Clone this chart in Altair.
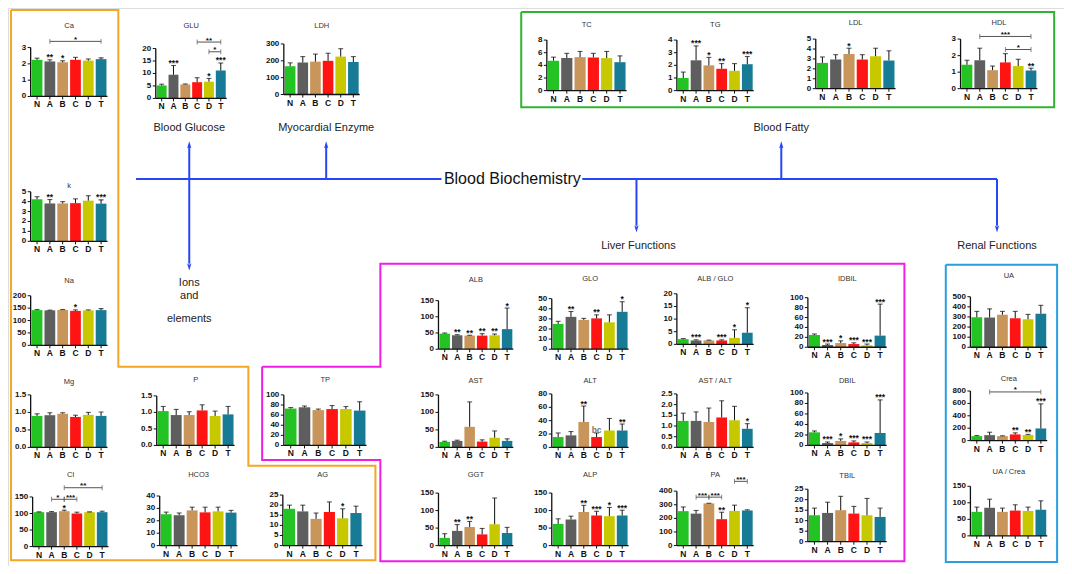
import altair as alt
import pandas as pd

# ---------------- data ----------------
GROUPS = ["N", "A", "B", "C", "D", "T"]
COLORS = ["#22c322", "#5e5e5e", "#c8955a", "#ff1414", "#c8c800", "#177b96"]

CA_M = [2.25, 2.15, 2.10, 2.25, 2.20, 2.29]
CA_E = [2.35, 2.25, 2.19, 2.40, 2.30, 2.37]
CA_S = ["", "**", "*", "", "", ""]
CA_BR = [("A", "T", 3.38, "*")]

K_M = [4.24, 3.82, 3.82, 3.85, 4.10, 3.80]
K_E = [4.50, 4.21, 4.00, 4.28, 4.60, 4.18]
K_S = ["", "**", "", "", "", "***"]

NA_M = [142, 141, 143, 139, 141, 142]
NA_E = [144.5, 142, 144.5, 143, 143, 148]
NA_S = ["", "", "", "*", "", ""]

MG_M = [0.90, 0.92, 0.96, 0.87, 0.93, 0.90]
MG_E = [0.96, 0.99, 0.99, 0.92, 1.00, 1.01]
MG_S = ["", "", "", "", "", ""]

CL_M = [104, 104, 107, 100, 104, 104]
CL_E = [105, 106, 110, 104, 105, 107]
CL_S = ["", "", "*", "", "", ""]
CL_BR = [("A", "B", 143, "*"), ("B", "C", 143, "***"), ("B", "T", 178, "**")]

P_M = [1.04, 0.92, 0.92, 1.06, 0.89, 0.94]
P_E = [1.18, 1.09, 1.02, 1.23, 1.04, 1.18]
P_S = ["", "", "", "", "", ""]

HCO3_M = [25.3, 24.5, 28.4, 26.8, 27.6, 26.6]
HCO3_E = [27.0, 26.3, 31.0, 31.0, 31.0, 28.4]
HCO3_S = ["", "", "", "", "", ""]

AG_M = [18.2, 16.9, 13.2, 16.6, 13.5, 16.1]
AG_E = [20.0, 20.0, 16.1, 21.6, 18.2, 19.5]
AG_S = ["", "", "", "", "*", ""]

TP_M = [73, 75.5, 70, 72, 72, 69]
TP_E = [75, 78, 72, 79, 77, 86.5]
TP_S = ["", "", "", "", "", ""]

GLU_M = [5.2, 9.5, 5.6, 6.5, 6.7, 11.2]
GLU_E = [5.7, 13.2, 5.8, 8.3, 8.0, 14.2]
GLU_S = ["", "***", "", "", "*", "***"]
GLU_BR = [("C", "T", 22.6, "**"), ("D", "T", 18.7, "*")]

LDH_M = [168, 190, 195, 200, 225, 193]
LDH_E = [188, 225, 240, 245, 272, 225]
LDH_S = ["", "", "", "", "", ""]

TC_M = [4.74, 5.15, 5.30, 5.26, 5.15, 4.50]
TC_E = [5.30, 5.90, 6.20, 5.90, 6.20, 5.50]
TC_S = ["", "", "", "", "", ""]

TG_M = [1.00, 2.40, 2.00, 1.73, 1.57, 2.09]
TG_E = [1.47, 3.54, 2.63, 2.14, 2.14, 2.70]
TG_S = ["", "***", "*", "**", "", "***"]

LDL_M = [2.60, 2.94, 3.50, 2.94, 3.27, 2.84]
LDL_E = [3.20, 3.43, 4.08, 3.43, 4.08, 3.82]
LDL_S = ["", "", "*", "", "", ""]

HDL_M = [1.45, 1.72, 1.12, 1.59, 1.37, 1.10]
HDL_E = [1.72, 2.45, 1.37, 2.12, 1.78, 1.24]
HDL_S = ["", "", "", "", "", "**"]
HDL_BR = [("A", "T", 3.16, "***"), ("C", "T", 2.37, "*")]

ALB_M = [48, 43, 42, 42, 43, 62]
ALB_E = [50, 45, 43, 48, 47, 127]
ALB_S = ["", "**", "**", "**", "**", "*"]

GLO_M = [25, 32, 29, 30.5, 26.6, 37]
GLO_E = [27.6, 37.3, 30.5, 34, 34, 47]
GLO_S = ["", "**", "", "**", "", "*"]

AG_RATIO_M = [2.05, 1.54, 1.54, 1.54, 2.56, 4.6]
AG_RATIO_E = [2.3, 1.8, 1.67, 1.8, 5.77, 14.5]
AG_RATIO_S = ["", "***", "", "***", "*", "*"]

IDBIL_M = [24.8, 4.6, 8.5, 6.5, 4.0, 23.5]
IDBIL_E = [26.8, 6.5, 13.0, 9.0, 6.5, 87.0]
IDBIL_S = ["", "***", "*", "***", "***", "***"]

AST_M = [15.7, 18.6, 58.8, 16.7, 27.5, 18.6]
AST_E = [17.6, 20.6, 130, 21.6, 47, 24.5]
AST_S = ["", "", "", "", "", ""]

ALT_M = [15.5, 18.0, 38.1, 15.5, 25.3, 25.3]
ALT_E = [21.6, 23.7, 61.9, 21.6, 43.3, 35.0]
ALT_S = ["", "", "**", "bc", "", "**"]

ASTALT_M = [1.24, 1.24, 1.19, 1.40, 1.27, 0.87]
ASTALT_E = [1.60, 1.66, 1.84, 2.18, 1.92, 1.11]
ASTALT_S = ["", "", "", "", "", "*"]

DBIL_M = [25.0, 4.6, 8.6, 5.9, 4.6, 23.7]
DBIL_E = [27.6, 6.6, 12.5, 8.6, 6.6, 86.8]
DBIL_S = ["", "***", "*", "***", "***", "***"]

GGT_M = [22, 42, 53, 32, 61, 36]
GGT_E = [34, 60, 69, 49, 136, 52]
GGT_S = ["", "**", "**", "", "", ""]

ALP_M = [62, 74.5, 96, 86, 84, 86]
ALP_E = [76.5, 84, 115, 98, 109, 101]
ALP_S = ["", "", "**", "***", "*", "***"]

PA_M = [253, 235, 310, 194, 255, 258]
PA_E = [284, 258, 311, 245, 297, 263]
PA_S = ["", "", "", "**", "", ""]
PA_BR = [("A", "B", 356, "***"), ("B", "C", 356, "***"), ("D", "T", 472, "***")]

TBIL_M = [12.6, 13.7, 15.0, 13.4, 12.6, 11.8]
TBIL_E = [16.0, 18.8, 21.6, 16.8, 20.6, 16.0]
TBIL_S = ["", "", "", "", "", ""]

UA_M = [297, 294, 322, 287, 277, 332]
UA_E = [355, 380, 355, 355, 325, 415]
UA_S = ["", "", "", "", "", ""]

CREA_M = [72, 88, 72, 100, 90, 196]
CREA_E = [82, 135, 78, 125, 100, 593]
CREA_S = ["", "", "", "**", "**", "***"]
CREA_BR = [("A", "T", 785, "*")]

UACR_M = [72.6, 85, 72.6, 76.5, 75.5, 79]
UACR_E = [87, 111, 84, 94, 87, 106]
UACR_S = ["", "", "", "", "", ""]

# ---------------- layout (reference pixel frame 1072 x 574) ----------------
W, H = 1056, 558
REF_W, REF_H = 1072, 574
FONT = "Liberation Sans"
INK = "#111111"


def sx(v):
    return v * W / REF_W


def sy(v):
    return v * H / REF_H


# title, means, tops, stars, brackets, (x0, x1, y_top, y_zero, ymax, ticks, fmt, title_y)
PANELS = [
    ("Ca", CA_M, CA_E, CA_S, CA_BR, (23, 101, 40.7, 91, 3, [0, 1, 2, 3], "d", 19)),
    ("k", K_M, K_E, K_S, [], (23, 101, 189, 240, 5, [0, 1, 2, 3, 4, 5], "d", 183)),
    ("Na", NA_M, NA_E, NA_S, [], (23, 101, 296, 347, 200, [0, 50, 100, 150, 200], "d", 281)),
    ("Mg", MG_M, MG_E, MG_S, [], (23, 101, 398, 452, 1.5, [0, 0.5, 1, 1.5], ".1f", 385)),
    ("Cl", CL_M, CL_E, CL_S, CL_BR, (25, 102, 503, 554, 150, [0, 50, 100, 150], "d", 480)),
    ("P", P_M, P_E, P_S, [], (151, 230, 399, 450, 1.5, [0, 0.5, 1, 1.5], ".1f", 383)),
    ("HCO3", HCO3_M, HCO3_E, HCO3_S, [], (154, 233, 502, 553, 40, [0, 10, 20, 30, 40], "d", 480)),
    ("AG", AG_M, AG_E, AG_S, [], (279, 360, 501, 553, 25, [0, 5, 10, 15, 20, 25], "d", 480)),
    ("TP", TP_M, TP_E, TP_S, [], (280, 364, 398, 450, 100, [0, 20, 40, 60, 80, 100], "d", 383)),
    ("GLU", GLU_M, GLU_E, GLU_S, GLU_BR, (150, 222, 41.7, 93, 20, [0, 5, 10, 15, 20], "d", 19)),
    ("LDH", LDH_M, LDH_E, LDH_S, [], (280, 357, 37, 89, 300, [0, 100, 200, 300], "d", 19)),
    ("TC", TC_M, TC_E, TC_S, [], (547, 628, 33, 85, 8, [0, 2, 4, 6, 8], "d", 17)),
    ("TG", TG_M, TG_E, TG_S, [], (679, 757, 33, 85, 4, [0, 1, 2, 3, 4], "d", 17)),
    ("LDL", LDL_M, LDL_E, LDL_S, [], (820, 901, 32, 83, 5, [0, 1, 2, 3, 4, 5], "d", 15)),
    ("HDL", HDL_M, HDL_E, HDL_S, HDL_BR, (967, 1045, 32, 83, 3, [0, 1, 2, 3], "d", 15)),
    ("ALB", ALB_M, ALB_E, ALB_S, [], (437, 513, 301, 351, 150, [0, 50, 100, 150], "d", 280)),
    ("GLO", GLO_M, GLO_E, GLO_S, [], (552, 630, 299, 351, 50, [0, 10, 20, 30, 40, 50], "d", 279)),
    ("ALB / GLO", AG_RATIO_M, AG_RATIO_E, AG_RATIO_S, [], (679, 757, 294, 346, 20, [0, 5, 10, 15, 20], "d", 279)),
    ("IDBIL", IDBIL_M, IDBIL_E, IDBIL_S, [], (812, 892, 298, 349, 100, [0, 20, 40, 60, 80, 100], "d", 279)),
    ("AST", AST_M, AST_E, AST_S, [], (437, 513, 398, 452, 150, [0, 50, 100, 150], "d", 384)),
    ("ALT", ALT_M, ALT_E, ALT_S, [], (552, 630, 397, 452, 80, [0, 20, 40, 60, 80], "d", 384)),
    ("AST / ALT", ASTALT_M, ASTALT_E, ASTALT_S, [], (679, 757, 397, 452, 2.5, [0, 0.5, 1, 1.5, 2, 2.5], ".1f", 384)),
    ("DBIL", DBIL_M, DBIL_E, DBIL_S, [], (812, 892, 396, 450, 100, [0, 20, 40, 60, 80, 100], "d", 384)),
    ("GGT", GGT_M, GGT_E, GGT_S, [], (437, 513, 499, 553, 150, [0, 50, 100, 150], "d", 480)),
    ("ALP", ALP_M, ALP_E, ALP_S, [], (552, 630, 499, 553, 150, [0, 50, 100, 150], "d", 480)),
    ("PA", PA_M, PA_E, PA_S, PA_BR, (679, 757, 497, 553, 400, [0, 100, 200, 300, 400], "d", 480)),
    ("TBIL", TBIL_M, TBIL_E, TBIL_S, [], (812, 892, 495, 549, 25, [0, 5, 10, 15, 20, 25], "d", 481)),
    ("UA", UA_M, UA_E, UA_S, [], (977, 1055, 297, 349, 500, [0, 100, 200, 300, 400, 500], "d", 276)),
    ("Crea", CREA_M, CREA_E, CREA_S, CREA_BR, (977, 1055, 394, 445, 800, [0, 200, 400, 600, 800], "d", 382)),
    ("UA / Crea", UACR_M, UACR_E, UACR_S, [], (977, 1055, 492, 543, 150, [0, 50, 100, 150], "d", 477)),
]

BOXES = {
    "orange": ("#f5a623", [(3, 2), (112, 2), (112, 369), (244, 369), (244, 471), (373, 471), (373, 568), (3, 568), (3, 2)]),
    "magenta": ("#f01ee6", [(258, 369), (378, 369), (378, 263), (910, 263), (910, 569), (378, 569), (378, 465), (258, 465), (258, 369)]),
    "green": ("#30b430", [(521, 4), (1062, 4), (1062, 102), (521, 102), (521, 4)]),
    "blue": ("#2a9fe0", [(952, 264), (1065, 264), (1065, 570), (952, 570), (952, 264)]),
}

BLUE = "#2846f5"
LINES = [  # x, y, x2, y2
    (130, 176, 440, 176), (583, 176, 1004, 176),
    (184, 176, 184, 143), (184, 176, 184, 263),
    (323, 176, 323, 143), (785, 176, 785, 143),
    (638, 176, 638, 224), (1004, 176, 1004, 224),
]
ARROWS_UP = [(184, 141), (323, 141), (785, 141)]
ARROWS_DOWN = [(184, 266), (638, 227), (1004, 227)]
LABELS = [
    ("Blood Glucose", 184, 123), ("Myocardial Enzyme", 323, 123), ("Blood Fatty", 785, 123),
    ("Liver Functions", 640, 245), ("Renal Functions", 1004, 245),
    ("Ions", 184, 283), ("and", 184, 296), ("elements", 184, 320),
]
MAIN_TITLE = ("Blood Biochemistry", 512, 176)

# ---------------- charts ----------------
DX = alt.Scale(domain=[0, REF_W], range=[0, W], nice=False, zero=False)
DY = alt.Scale(domain=[0, REF_H], range=[0, H], nice=False, zero=False)


def dx(f):
    return alt.X(f, type="quantitative", scale=DX, axis=None)


def dy(f):
    return alt.Y(f, type="quantitative", scale=DY, axis=None)


box_rows = []
for name, (col, pts) in BOXES.items():
    for k, (x, y) in enumerate(pts):
        box_rows.append({"box": name, "col": col, "o": k, "x": x, "y": y})
boxes = alt.Chart(pd.DataFrame(box_rows)).mark_line(strokeWidth=2).encode(
    x=dx("x"), y=dy("y"), order="o:Q", detail="box:N", color=alt.Color("col:N", scale=None))

lines = alt.Chart(pd.DataFrame(LINES, columns=["x", "y", "x2", "y2"])).mark_rule(
    color=BLUE, strokeWidth=2).encode(x=dx("x"), y=dy("y"), x2="x2:Q", y2="y2:Q")

arrow_up = alt.Chart(pd.DataFrame(ARROWS_UP, columns=["x", "y"])).mark_point(
    shape="M0,-1L-0.55,0.8L0,0.5L0.55,0.8Z", filled=True, color=BLUE, opacity=1, size=60).encode(
    x=dx("x"), y=dy("y"))
arrow_dn = alt.Chart(pd.DataFrame(ARROWS_DOWN, columns=["x", "y"])).mark_point(
    shape="M0,1L-0.55,-0.8L0,-0.5L0.55,-0.8Z", filled=True, color=BLUE, opacity=1, size=60).encode(
    x=dx("x"), y=dy("y"))

labels = alt.Chart(pd.DataFrame(LABELS, columns=["t", "x", "y"])).mark_text(
    font=FONT, fontSize=11, color="#222222", baseline="middle").encode(x=dx("x"), y=dy("y"), text="t:N")

main_title = alt.Chart(pd.DataFrame([MAIN_TITLE], columns=["t", "x", "y"])).mark_text(
    font=FONT, fontSize=16, color=INK, baseline="middle").encode(x=dx("x"), y=dy("y"), text="t:N")

titles_df = pd.DataFrame({
    "t": [p[0] for p in PANELS],
    "x": [(p[5][0] + p[5][1]) / 2 for p in PANELS],
    "y": [p[5][7] for p in PANELS],
})
titles = alt.Chart(titles_df).mark_text(font=FONT, fontSize=7.5, color="#333333", baseline="middle").encode(
    x=dx("x"), y=dy("y"), text="t:N")

deco = alt.layer(boxes, lines, arrow_up, arrow_dn, labels, main_title, titles)


def fmt_tick(v, fmt):
    return f"{v:.1f}" if fmt == ".1f" else str(int(v))


def make_panel(title, means, tops, stars, brackets, lay):
    x0, x1, ytop, yzero, ymax, ticks, fmt, _ = lay
    xs = alt.Scale(domain=[-0.5, 5.5], range=[sx(x0), sx(x1)], nice=False, zero=False)
    ys = alt.Scale(domain=[0, ymax], range=[sy(yzero), sy(ytop)], nice=False, zero=False)
    # tick lengths (3 px) expressed in data units of this panel
    tx = 3.0 / ((sx(x1) - sx(x0)) / 6.0)
    ty = 3.0 * ymax / (sy(yzero) - sy(ytop))

    def X(f):
        return alt.X(f, type="quantitative", scale=xs, axis=None)

    def Y(f):
        return alt.Y(f, type="quantitative", scale=ys, axis=None)

    df = pd.DataFrame({
        "i": list(range(6)), "m": means, "e": tops, "s": stars, "c": COLORS,
        "sc": ["#777777" if t == "bc" else INK for t in stars],
    })
    base = alt.Chart(df)
    bars = base.transform_calculate(
        l="datum.i - 0.42", r="datum.i + 0.42", z="0"
    ).mark_bar().encode(
        x=X("l"), x2="r:Q", y=Y("m"), y2="z:Q", color=alt.Color("c:N", scale=None))
    err = base.mark_rule(color=INK, strokeWidth=1).encode(x=X("i"), y=Y("m"), y2="e:Q")
    cap = base.mark_tick(orient="horizontal", size=sx(5), thickness=1.1, color=INK).encode(
        x=X("i"), y=Y("e"))
    st = base.mark_text(font=FONT, fontSize=8.5, fontWeight="bold", baseline="alphabetic", dy=0.5).encode(
        x=X("i"), y=Y("e"), text="s:N", color=alt.Color("sc:N", scale=None))

    # axes drawn through the panel scales
    ydf = pd.DataFrame({"v": ticks, "lab": [fmt_tick(v, fmt) for v in ticks]})
    ydf["x"] = -0.5
    ydf["xt"] = -0.5 - tx
    frame = pd.DataFrame({"xa": [-0.5], "xb": [5.5], "y0": [0.0], "y1": [float(ymax)]})
    xdf = pd.DataFrame({"i": list(range(6)), "g": GROUPS})
    xdf["y"] = 0.0
    xdf["yt"] = -ty
    ydom = alt.Chart(frame).mark_rule(color=INK, strokeWidth=1.3).encode(x=X("xa"), y=Y("y0"), y2="y1:Q")
    xdom = alt.Chart(frame).mark_rule(color=INK, strokeWidth=1.3).encode(x=X("xa"), x2="xb:Q", y=Y("y0"))
    ytk = alt.Chart(ydf).mark_rule(color=INK, strokeWidth=1).encode(x=X("x"), x2="xt:Q", y=Y("v"))
    ylab = alt.Chart(ydf).mark_text(font=FONT, fontSize=8, fontWeight="bold", color=INK, align="right",
                                    baseline="middle", dx=-4.5).encode(x=X("x"), y=Y("v"), text="lab:N")
    xtk = alt.Chart(xdf).mark_rule(color=INK, strokeWidth=1).encode(x=X("i"), y=Y("y"), y2="yt:Q")
    xlab = alt.Chart(xdf).mark_text(font=FONT, fontSize=8.5, fontWeight="bold", color=INK,
                                    baseline="top", dy=4).encode(x=X("i"), y=Y("y"), text="g:N")

    layers = [bars, err, cap, st, ydom, xdom, ytk, ylab, xtk, xlab]
    if brackets:
        bdf = pd.DataFrame({
            "a": [GROUPS.index(b[0]) for b in brackets],
            "b": [GROUPS.index(b[1]) for b in brackets],
            "lv": [b[2] for b in brackets],
            "t": [b[3] for b in brackets],
        })
        bdf["mid"] = (bdf["a"] + bdf["b"]) / 2
        edf = pd.DataFrame({
            "x": list(bdf["a"]) + list(bdf["b"]),
            "lv": list(bdf["lv"]) * 2,
        })
        brule = alt.Chart(bdf).mark_rule(color="#555555", strokeWidth=1).encode(
            x=X("a"), x2="b:Q", y=Y("lv"))
        bend = alt.Chart(edf).mark_tick(orient="vertical", size=sy(5), thickness=1, color="#555555").encode(
            x=X("x"), y=Y("lv"))
        btxt = alt.Chart(bdf).mark_text(font=FONT, fontSize=8, fontWeight="bold", baseline="alphabetic",
                                        dy=0.5, color=INK).encode(
            x=X("mid"), y=Y("lv"), text="t:N")
        layers += [brule, bend, btxt]
    return alt.layer(*layers)


panels = [make_panel(*p) for p in PANELS]

chart = alt.layer(deco, *panels).resolve_scale(x="independent", y="independent").properties(
    width=W, height=H, padding=0, autosize=alt.AutoSizeParams(type="none")
).configure_view(stroke=None).configure(background="white", font=FONT)

chart.save("out.html", embed_options={"renderer": "svg", "actions": False})
